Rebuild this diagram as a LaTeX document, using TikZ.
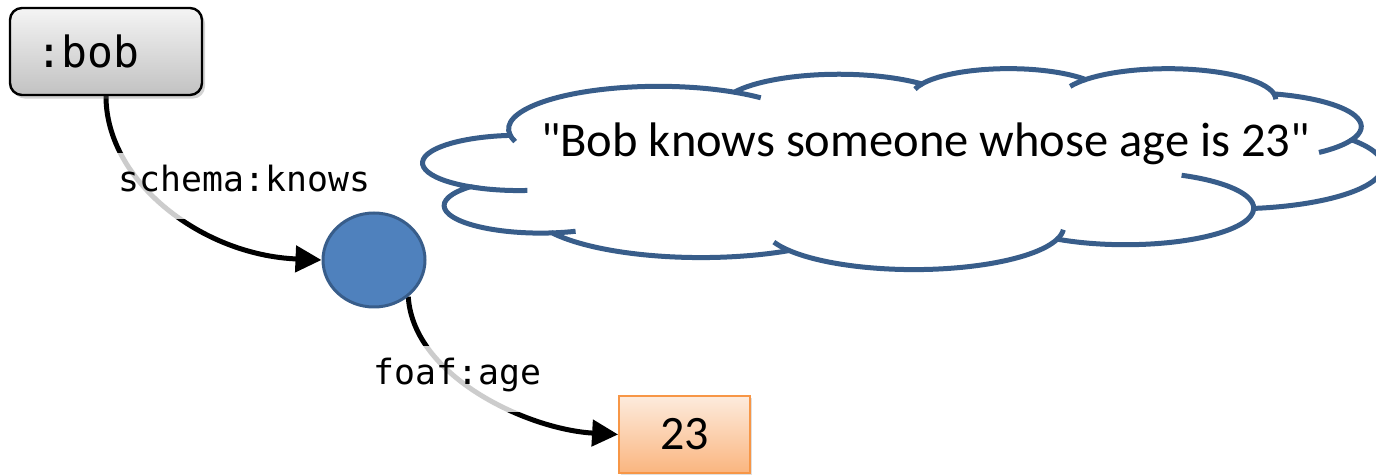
\documentclass[tikz,border=0pt]{standalone}
\usepackage{fontspec}
\setmainfont{Carlito}[Ligatures=TeXOff]
\newfontfamily\monofont{DejaVu Sans Mono}
\usetikzlibrary{arrows.meta,shapes.geometric,shadows,backgrounds}
\definecolor{cloudblue}{HTML}{385D8A}
\definecolor{nodeblue}{HTML}{4F81BD}
\definecolor{nodeborder}{HTML}{385D8A}
\definecolor{litborder}{HTML}{F79646}
\definecolor{littop}{HTML}{FDEBDD}
\definecolor{litbottom}{HTML}{FAB57F}
\definecolor{bobtop}{HTML}{F4F4F4}
\definecolor{bobbottom}{HTML}{C2C2C2}
\begin{document}
\begin{tikzpicture}[x=0.5pt,y=-0.5pt,
  bobbox/.style={draw=black, line width=1.2pt, rounded corners=6pt,
    top color=bobtop, bottom color=bobbottom,
    drop shadow={shadow xshift=1.5pt, shadow yshift=-1.8pt, opacity=0.35},
    minimum width=96pt, minimum height=43.5pt, text width=70pt, align=left,
    inner xsep=13pt, inner ysep=0pt,
    font=\monofont\fontsize{21.5pt}{26pt}\selectfont},
  blanknode/.style={ellipse, draw=nodeborder, line width=1.5pt, fill=nodeblue,
    minimum width=51pt, minimum height=47pt, inner sep=0pt},
  litbox/.style={draw=litborder, line width=0.9pt, top color=littop, bottom color=litbottom,
    drop shadow={shadow xshift=1pt, shadow yshift=-1pt, opacity=0.25},
    minimum width=65.5pt, minimum height=38.5pt, inner sep=0pt,
    font=\fontsize{24pt}{28pt}\selectfont},
  edgeline/.style={line width=2.5pt, black, -{Triangle[length=13pt,width=13pt]}},
  edgelabel/.style={fill=white, fill opacity=0.8, text opacity=1, inner xsep=3pt,
    minimum height=33pt, text height=0.76em, text depth=0.24em,
    font=\monofont\fontsize{17.4pt}{21pt}\selectfont},
  cloudline/.style={draw=cloudblue, line width=2.5pt},
  cloudtext/.style={font=\fontsize{24.25pt}{29pt}\selectfont, inner sep=0pt}
  ]
\useasboundingbox (0,0) rectangle (1376,475);
\clip (0,0) rectangle (1376,475);

% cloud (PowerPoint cloud geometry, units of 100/43200 of the box)
\begin{scope}[shift={(423.4,68)}, x=1.11pt, y=-0.2325pt]
\path[cloudline, fill=white] (39.00,143.70) coordinate (J0)
 arc[start angle=-187.75, end angle=-59.64, x radius=67.53, y radius=91.90] coordinate (J1)
 arc[start angle=-152.02, end angle=-45.46, x radius=53.33, y radius=72.67] coordinate (J2)
 arc[start angle=-153.49, end angle=-37.33, x radius=43.65, y radius=59.45] coordinate (J3)
 arc[start angle=-139.72, end angle=-10.22, x radius=48.57, y radius=65.95] coordinate (J4)
 arc[start angle=-74.77, end angle=23.21, x radius=53.33, y radius=72.73] coordinate (J5)
 arc[start angle=-37.53, end angle=81.87, x radius=67.75, y radius=92.20] coordinate (J6)
 arc[start angle=0.46, end angle=121.99, x radius=57.85, y radius=78.67] coordinate (J7)
 arc[start angle=16.85, end angle=146.23, x radius=67.52, y radius=92.15] coordinate (J8)
 arc[start angle=58.98, end angle=150.20, x radius=77.20, y radius=105.43] coordinate (J9)
 arc[start angle=83.31, end angle=223.12, x radius=43.60, y radius=59.18] coordinate (J10)
 arc[start angle=120.35, end angle=264.11, x radius=43.45, y radius=59.45] -- cycle;
\draw[cloudline]
 (J0) arc[start angle=-187.75, end angle=-197, x radius=67.53, y radius=91.90]
 (J10) arc[start angle=120.35, end angle=85, x radius=43.45, y radius=59.45]
 (J9) arc[start angle=83.31, end angle=69, x radius=43.60, y radius=59.18]
 (J8) arc[start angle=146.23, end angle=159, x radius=67.52, y radius=92.15]
 (J7) arc[start angle=16.85, end angle=4, x radius=67.52, y radius=92.15]
 (J6) arc[start angle=0.46, end angle=-64, x radius=57.85, y radius=78.67]
 (J5) arc[start angle=23.21, end angle=50, x radius=53.33, y radius=72.73]
 (J4) arc[start angle=-10.22, end angle=0, x radius=48.57, y radius=65.95]
 (J3) arc[start angle=-139.72, end angle=-155, x radius=48.57, y radius=65.95]
 (J2) arc[start angle=-153.49, end angle=-165, x radius=43.65, y radius=59.45]
 (J1) arc[start angle=-59.64, end angle=-47, x radius=67.53, y radius=91.90];
\end{scope}
\node[cloudtext, anchor=base] (thought) at (925.5,157) {"Bob knows someone whose age is 23"};

% nodes
\node[bobbox] (bob) at (106,51.5) {:bob};
\node[blanknode] (blank) at (374,260) {};
\node[litbox] (lit) at (684.5,434.5) {23};

\begin{scope}[on background layer]
% edges
\draw[edgeline] (bob.south) .. controls +(0,85) and +(-120,-5) .. (blank.west);
\draw[edgeline] (blank.-47) .. controls +(5,80) and +(-90,-5) .. (lit.west);
% edge labels
\node[edgelabel] (knows) at (244.5,186) {schema:knows};
\node[edgelabel] (age) at (457.5,379) {foaf:age};
\end{scope}
\end{tikzpicture}
\end{document}
